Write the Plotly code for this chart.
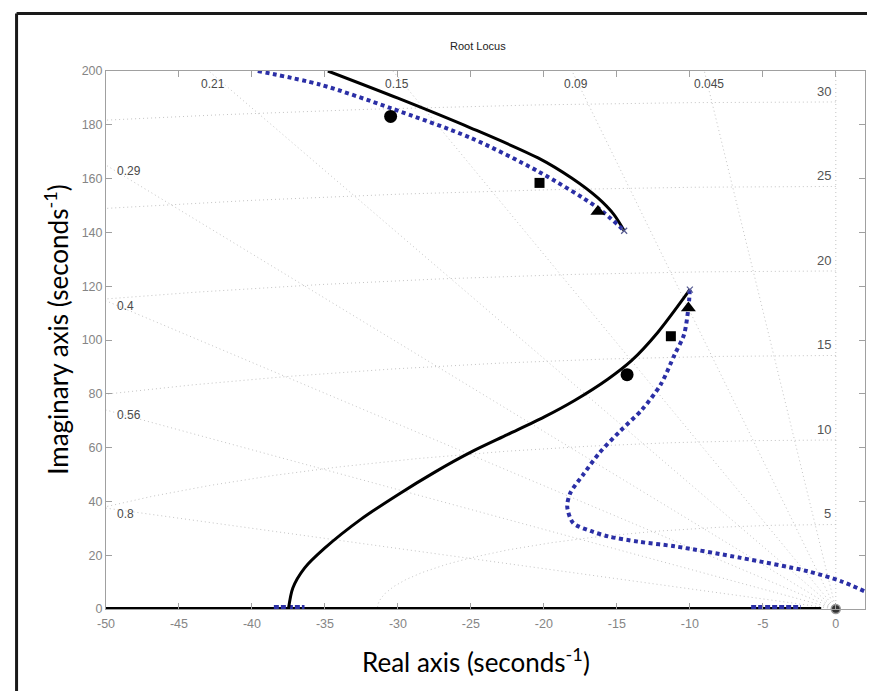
import numpy as np
import plotly.graph_objects as go

# ---------------- data ----------------
upper_black_x = [-34.8, -30.0, -25.0, -20.4, -18.1, -16.3, -15.2, -14.5]
upper_black_y = [200.0, 189.9, 178.8, 167.7, 160.2, 152.8, 146.6, 140.6]

upper_blue_x = [-39.6, -35.3, -30.5, -25.0, -20.4, -16.3, -14.5]
upper_blue_y = [200.0, 194.9, 186.2, 175.1, 162.7, 149.1, 140.6]

lower_black_x = [-37.5, -37.2, -36.4, -35.0, -32.5, -30.0, -27.5, -25.0, -22.5, -20.0,
                 -17.9, -15.6, -14.0, -12.2, -10.0]
lower_black_y = [0.0, 7.8, 15.2, 22.7, 33.5, 42.5, 50.8, 58.3, 64.8, 71.3,
                 77.5, 85.5, 92.3, 102.8, 118.7]

lower_blue_x = [-10.0, -10.1, -10.4, -11.05, -12.0, -13.3, -14.8, -16.2, -17.3, -18.2, -18.4,
                -18.0, -16.8, -15.6, -13.5, -11.05, -6.5, -1.9, 0.37, 1.97]
lower_blue_y = [118.7, 111.9, 102.0, 94.5, 83.4, 74.0, 66.0, 58.0, 50.0, 43.0, 38.0,
                32.0, 29.0, 27.0, 25.0, 23.3, 19.0, 14.0, 10.3, 6.6]

real_black_x = [-50.0, -1.0]
real_black_y = [0.0, 0.0]
real_blue_x1 = [-5.8, -2.4]
real_blue_x2 = [-38.5, -36.4]
real_blue_y = [0.0, 0.0]

pole_x = [-14.5, -10.0]
pole_y = [140.6, 118.7]
zero_x = [0.0]
zero_y = [0.0]

circle_x = [-30.5, -14.3]
circle_y = [183.1, 87.1]
square_x = [-20.3, -11.3]
square_y = [158.4, 101.4]
triangle_x = [-16.3, -10.1]
triangle_y = [147.8, 111.9]

# grid (sgrid) values
zeta_values = [0.8, 0.56, 0.4, 0.29, 0.21, 0.15, 0.09, 0.045]
zeta_labels = ["0.8", "0.56", "0.4", "0.29", "0.21", "0.15", "0.09", "0.045"]
wn_hz = [5, 10, 15, 20, 25, 30]
wn_labels = ["5", "10", "15", "20", "25", "30"]

x_ticks = list(range(-50, 1, 5))
y_ticks = list(range(0, 201, 20))

XMIN, XMAX, YMIN, YMAX = -50, 2, 0, 200

# ---------------- figure ----------------
fig = go.Figure()
GRID = dict(color="#c4c4c4", width=1, dash="1px,3px")

# damping ratio lines
for z in zeta_values:
    slope = np.sqrt(1 - z * z) / z
    x_end = max(XMIN, -YMAX / slope)
    fig.add_trace(go.Scatter(x=[0, x_end], y=[0, -slope * x_end], mode="lines",
                             line=GRID, hoverinfo="skip", showlegend=False))
fig.add_trace(go.Scatter(x=[0, 0], y=[0, YMAX], mode="lines", line=GRID,
                         hoverinfo="skip", showlegend=False))
# natural frequency circles
for f in wn_hz:
    r = 2 * np.pi * f
    th = np.linspace(np.pi / 2, np.pi, 400)
    cx, cy = r * np.cos(th), r * np.sin(th)
    m = cx >= XMIN - 1
    fig.add_trace(go.Scatter(x=cx[m], y=cy[m], mode="lines", line=GRID,
                             hoverinfo="skip", showlegend=False))

# real axis branch
fig.add_trace(go.Scatter(x=real_black_x, y=real_black_y, mode="lines",
                         line=dict(color="black", width=4), showlegend=False))
for rx in (real_blue_x1, real_blue_x2):
    fig.add_trace(go.Scatter(x=rx, y=real_blue_y, mode="lines",
                             line=dict(color="#2b2fa6", width=8, dash="5px,2px"), showlegend=False))

# locus branches
BLUE = dict(color="#2b2fa6", width=4, dash="4px,3.5px", shape="spline", smoothing=0.8)
BLACK = dict(color="black", width=3, shape="spline", smoothing=0.8)
fig.add_trace(go.Scatter(x=upper_black_x, y=upper_black_y, mode="lines", line=BLACK, showlegend=False))
fig.add_trace(go.Scatter(x=lower_black_x, y=lower_black_y, mode="lines", line=BLACK, showlegend=False))
fig.add_trace(go.Scatter(x=upper_blue_x, y=upper_blue_y, mode="lines", line=BLUE, showlegend=False))
fig.add_trace(go.Scatter(x=lower_blue_x, y=lower_blue_y, mode="lines", line=BLUE, showlegend=False))

# poles / zero
fig.add_trace(go.Scatter(x=pole_x, y=pole_y, mode="markers",
                         marker=dict(symbol="x-thin", size=6, line=dict(color="#555a90", width=1.2)),
                         showlegend=False))
fig.add_trace(go.Scatter(x=zero_x, y=zero_y, mode="markers",
                         marker=dict(symbol="circle", size=9, color="#333333",
                                     line=dict(color="#999999", width=1.5)),
                         showlegend=False, cliponaxis=False))

# markers
fig.add_trace(go.Scatter(x=circle_x, y=circle_y, mode="markers",
                         marker=dict(symbol="circle", size=13, color="black"), showlegend=False))
fig.add_trace(go.Scatter(x=square_x, y=square_y, mode="markers",
                         marker=dict(symbol="square", size=10, color="black"), showlegend=False))
fig.add_trace(go.Scatter(x=triangle_x, y=triangle_y, mode="markers",
                         marker=dict(symbol="triangle-up", size=13, color="black"), showlegend=False))

annotations = []
ZLAB = dict(family="Liberation Sans, Arial, sans-serif", size=12, color="#4a4a4a")
WLAB = dict(family="Liberation Sans, Arial, sans-serif", size=13, color="#555555")
for z, lab in zip(zeta_values, zeta_labels):
    slope = np.sqrt(1 - z * z) / z
    y_at_left = -slope * XMIN
    if y_at_left <= YMAX:
        annotations.append(dict(x=XMIN + 0.6, y=y_at_left - 2, text=lab, showarrow=False,
                                xanchor="left", yanchor="middle", font=ZLAB))
    else:
        annotations.append(dict(x=-YMAX / slope + 0.3, y=195, text=lab, showarrow=False,
                                xanchor="center", yanchor="middle", font=ZLAB))
for f, lab in zip(wn_hz, wn_labels):
    r = 2 * np.pi * f
    annotations.append(dict(x=-0.2, y=r + 0.5, text=lab, showarrow=False,
                            xanchor="right", yanchor="bottom", font=WLAB))

# titles
annotations.append(dict(xref="paper", yref="paper", x=(470 - 97.5) / 759.5, y=(601 - 37) / 538.5,
                        text="Root Locus", showarrow=False, xanchor="center", yanchor="middle",
                        font=dict(family="Liberation Sans Narrow, Liberation Sans, Arial", size=11,
                                  color="#222222")))
annotations.append(dict(xref="paper", yref="paper", x=(468 - 97.5) / 759.5, y=(601 - 653) / 538.5,
                        text="Real axis (seconds<sup>-1</sup>)", showarrow=False,
                        xanchor="center", yanchor="middle",
                        font=dict(family="Lato, Open Sans, sans-serif", size=26, color="black")))
annotations.append(dict(xref="paper", yref="paper", x=(48 - 97.5) / 759.5, y=(601 - 322) / 538.5,
                        text="Imaginary axis (seconds<sup>-1</sup>)", showarrow=False, textangle=-90,
                        xanchor="center", yanchor="middle",
                        font=dict(family="Lato, Open Sans, sans-serif", size=26, color="black")))

shapes = [
    dict(type="line", xref="paper", yref="paper", x0=(8 - 97.5) / 759.5, x1=(875 - 97.5) / 759.5,
         y0=(601 - 5) / 538.5, y1=(601 - 5) / 538.5, line=dict(color="#1a1a1a", width=3)),
    dict(type="line", xref="paper", yref="paper", x0=(8 - 97.5) / 759.5, x1=(8 - 97.5) / 759.5,
         y0=(601 - 5) / 538.5, y1=(601 - 691) / 538.5, line=dict(color="#1a1a1a", width=3)),
]

AX = dict(showline=True, linecolor="#a0a0a0", linewidth=1, mirror="ticks", ticks="inside",
          ticklen=6, tickcolor="#a0a0a0", showgrid=False, zeroline=False,
          tickfont=dict(family="Liberation Sans, Arial, sans-serif", size=12.5, color="#858585"))

fig.update_layout(
    width=875, height=691,
    margin=dict(l=97.5, r=18, t=62.5, b=90),
    paper_bgcolor="white", plot_bgcolor="white",
    xaxis=dict(range=[XMIN, XMAX], tickvals=x_ticks, ticktext=[str(v) for v in x_ticks],
               ticklabelstandoff=3, **AX),
    yaxis=dict(range=[YMIN, YMAX], tickvals=y_ticks, ticktext=[str(v) for v in y_ticks], **AX),
    annotations=annotations, shapes=shapes,
)

fig.write_html("out.html")
